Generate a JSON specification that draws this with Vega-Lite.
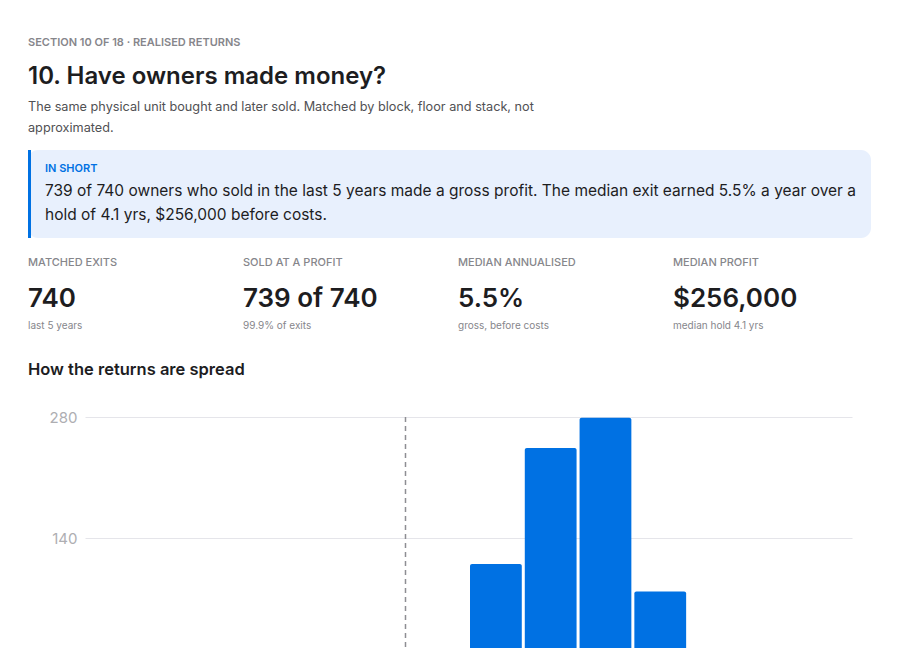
{
  "$schema": "https://vega.github.io/schema/vega-lite/v6.json",
  "background": "#ffffff",
  "padding": {"left": 28, "top": 36, "right": 10, "bottom": 10},
  "title": {
    "text": "SECTION 10 OF 18 · REALISED RETURNS",
    "fontSize": 11,
    "fontWeight": 600,
    "color": "#86868b",
    "anchor": "start",
    "frame": "bounds",
    "offset": 17
  },
  "spacing": 17,
  "vconcat": [
    {
      "width": 843,
      "height": 88,
      "title": {
        "text": "10. Have owners made money?",
        "subtitle": [
          "The same physical unit bought and later sold. Matched by block, floor and stack, not",
          "approximated."
        ],
        "fontSize": 24,
        "fontWeight": 600,
        "color": "#1d1d1f",
        "subtitleFontSize": 12.7,
        "subtitleColor": "#515154",
        "subtitleLineHeight": 21,
        "subtitlePadding": 12,
        "anchor": "start",
        "frame": "bounds",
        "offset": 14
      },
      "view": {"fill": "#e8f0fd", "cornerRadius": 10, "stroke": null},
      "data": {
        "values": [
          {"part": "kicker", "text": "IN SHORT"},
          {"part": "summary", "text": "739 of 740 owners who sold in the last 5 years made a gross profit. The median exit earned 5.5% a year over a\nhold of 4.1 yrs, $256,000 before costs."}
        ]
      },
      "encoding": {
        "x": {"datum": 0, "type": "quantitative", "scale": {"domain": [0, 1], "nice": false}, "axis": null}
      },
      "layer": [
        {
          "mark": {"type": "rule", "color": "#0071e3", "strokeWidth": 3, "xOffset": 1.5}
        },
        {
          "transform": [{"filter": "datum.part === 'kicker'"}],
          "mark": {"type": "text", "align": "left", "baseline": "alphabetic", "fontSize": 11, "fontWeight": 600, "color": "#0071e3", "dx": 17},
          "encoding": {
            "y": {"field": "part", "type": "nominal", "scale": {"type": "point", "padding": 0, "domain": ["kicker", "summary"], "range": [21.5, 46]}, "axis": null},
            "text": {"field": "text"}
          }
        },
        {
          "transform": [{"filter": "datum.part === 'summary'"}],
          "mark": {"type": "text", "align": "left", "baseline": "alphabetic", "fontSize": 15.5, "fontWeight": 400, "color": "#1d1d1f", "dx": 17, "lineBreak": "\n", "lineHeight": 24},
          "encoding": {
            "y": {"field": "part", "type": "nominal", "axis": null},
            "text": {"field": "text"}
          }
        }
      ]
    },
    {
      "width": 860,
      "height": 86,
      "data": {
        "values": [
          {"metric": "MATCHED EXITS", "value": "740", "note": "last 5 years"},
          {"metric": "SOLD AT A PROFIT", "value": "739 of 740", "note": "99.9% of exits"},
          {"metric": "MEDIAN ANNUALISED", "value": "5.5%", "note": "gross, before costs"},
          {"metric": "MEDIAN PROFIT", "value": "$256,000", "note": "median hold 4.1 yrs"}
        ]
      },
      "transform": [{"fold": ["metric", "value", "note"], "as": ["part", "text"]}],
      "encoding": {
        "x": {"field": "metric", "type": "nominal", "sort": null, "scale": {"type": "band", "paddingInner": 0, "paddingOuter": 0}, "bandPosition": 0, "axis": null},
        "y": {"field": "part", "type": "nominal", "scale": {"type": "point", "padding": 0, "domain": ["metric", "value", "note"], "range": [8, 71]}, "axis": null},
        "text": {"field": "text"}
      },
      "layer": [
        {
          "transform": [{"filter": "datum.part === 'metric'"}],
          "mark": {"type": "text", "align": "left", "baseline": "alphabetic", "fontSize": 11, "fontWeight": 500, "color": "#86868b"}
        },
        {
          "transform": [{"filter": "datum.part === 'value'"}],
          "mark": {"type": "text", "align": "left", "baseline": "alphabetic", "fontSize": 26, "fontWeight": 600, "color": "#1d1d1f", "dy": 9.5}
        },
        {
          "transform": [{"filter": "datum.part === 'note'"}],
          "mark": {"type": "text", "align": "left", "baseline": "alphabetic", "fontSize": 10, "fontWeight": 400, "color": "#86868b"}
        }
      ]
    },
    {
      "width": 824,
      "height": 242,
      "title": {
        "text": "How the returns are spread",
        "fontSize": 16.5,
        "fontWeight": 600,
        "color": "#1d1d1f",
        "anchor": "start",
        "frame": "group",
        "offset": 32
      },
      "layer": [
        {
          "data": {
            "values": [
              {"bin_start": -1.7, "bin_end": 0.3, "count": 1},
              {"bin_start": 0.3, "bin_end": 2.3, "count": 12},
              {"bin_start": 2.3, "bin_end": 4.3, "count": 110},
              {"bin_start": 4.3, "bin_end": 6.3, "count": 244},
              {"bin_start": 6.3, "bin_end": 8.3, "count": 279},
              {"bin_start": 8.3, "bin_end": 10.3, "count": 78},
              {"bin_start": 10.3, "bin_end": 12.3, "count": 11},
              {"bin_start": 12.3, "bin_end": 14.3, "count": 5}
            ]
          },
          "mark": {"type": "bar", "color": "#0071e3", "xOffset": 1.5, "x2Offset": -1.5, "cornerRadiusTopLeft": 2, "cornerRadiusTopRight": 2},
          "encoding": {
            "x": {
              "field": "bin_start",
              "type": "quantitative",
              "scale": {"domain": [-11.7, 16.3], "range": [57, 824], "nice": false, "zero": false},
              "axis": null
            },
            "x2": {"field": "bin_end"},
            "y": {
              "field": "count",
              "type": "quantitative",
              "scale": {"domain": [0, 280], "nice": false},
              "axis": {"title": null, "values": [140, 280], "domain": false, "ticks": false, "offset": -57, "labelColor": "#aeaeb2", "labelFontSize": 15, "labelPadding": 8, "gridColor": "#e5e5ea"}
            },
            "y2": {"datum": 0}
          }
        },
        {
          "data": {"values": [{"return": 0}]},
          "mark": {"type": "rule", "color": "#8e8e93", "strokeDash": [5, 4], "strokeWidth": 1.5},
          "encoding": {
            "x": {"field": "return", "type": "quantitative"}
          }
        }
      ]
    }
  ],
  "config": {
    "font": "Inter",
    "view": {"stroke": null},
    "title": {"anchor": "start"}
  }
}
